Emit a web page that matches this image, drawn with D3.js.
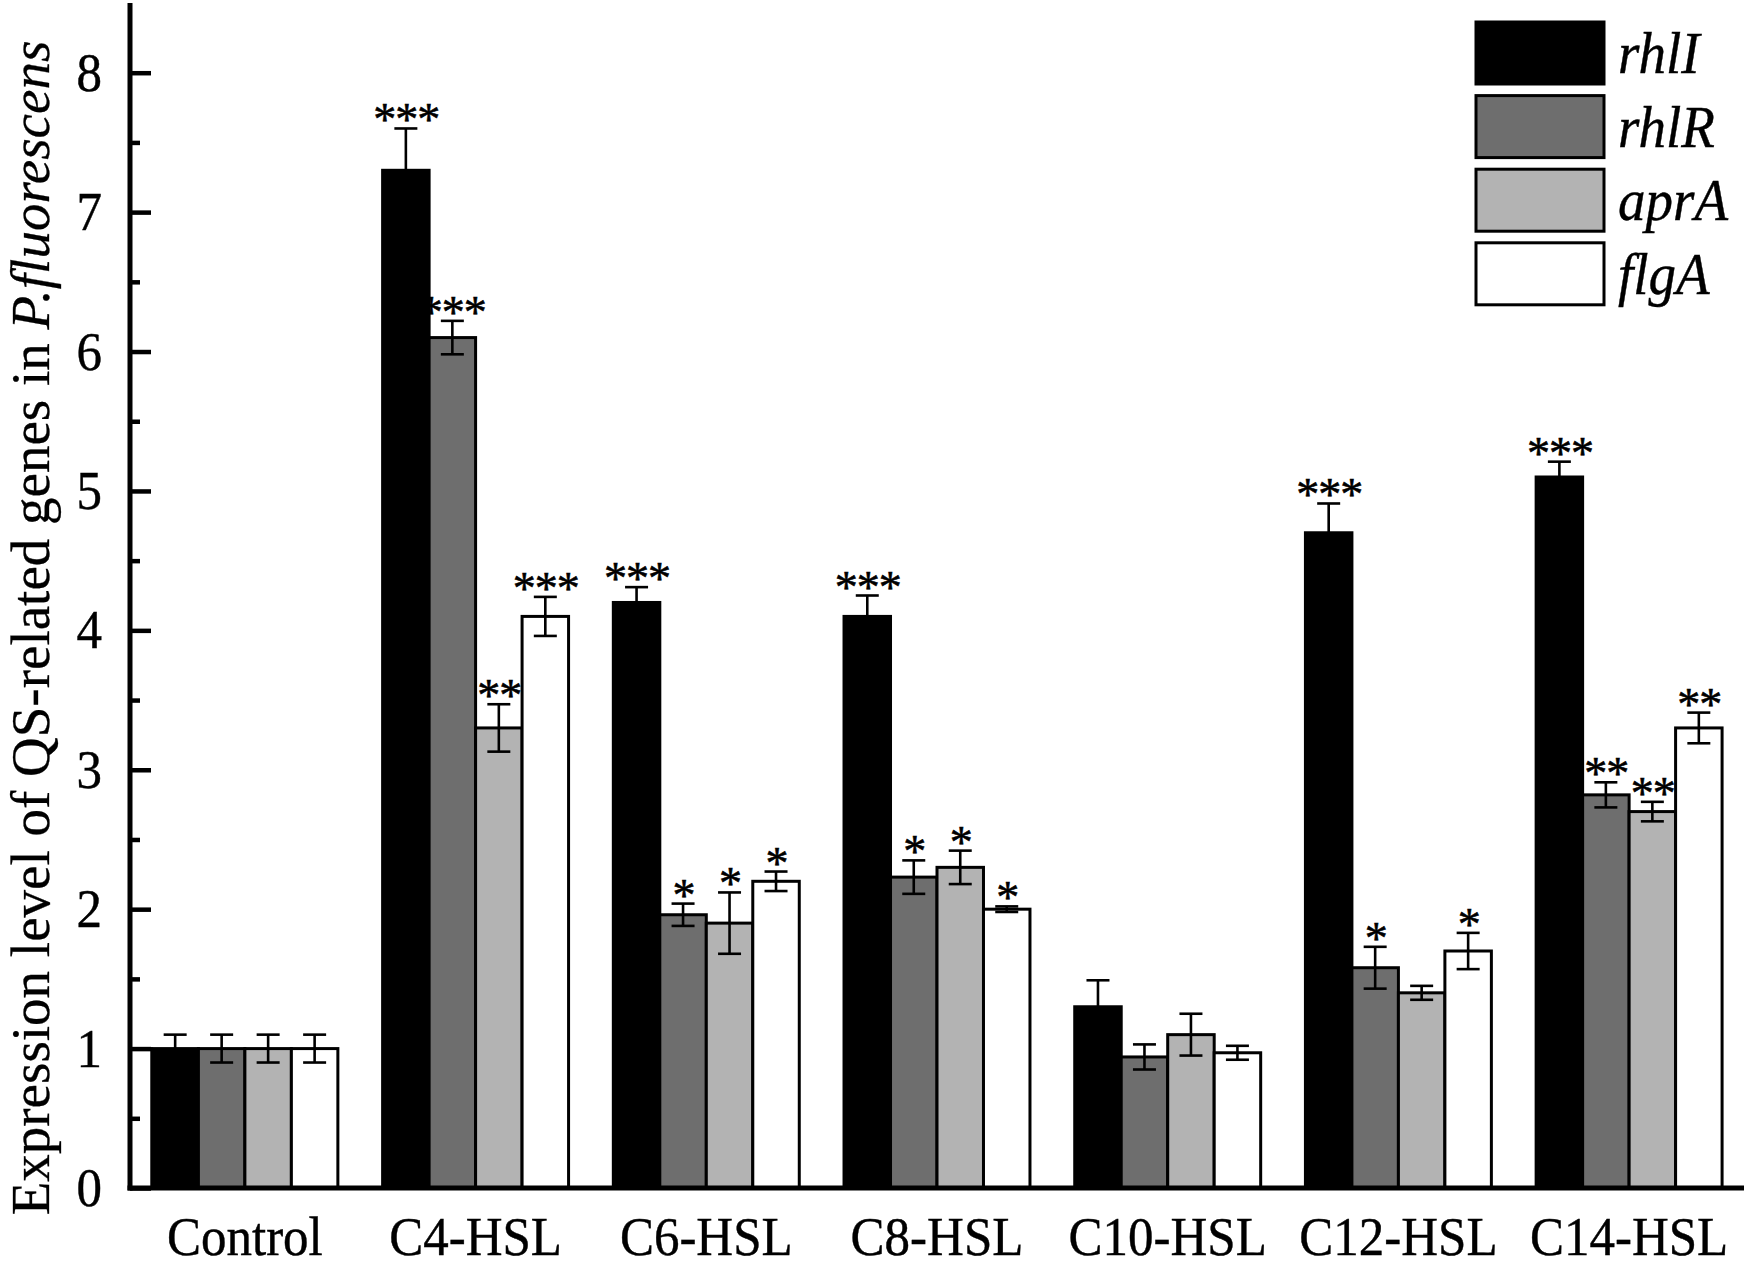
<!DOCTYPE html>
<html>
<head>
<meta charset="utf-8">
<script src="https://cdn.jsdelivr.net/npm/d3@7/dist/d3.min.js"></script>
<style>
  html, body { margin: 0; padding: 0; background: #ffffff; }
  svg { display: block; }
  text { font-family: "Liberation Serif", "Times New Roman", serif; fill: #000; }
</style>
</head>
<body>
<svg id="chart" width="1757" height="1278"></svg>
<script>
// ---------------- data ----------------
const categories = ["Control", "C4-HSL", "C6-HSL", "C8-HSL", "C10-HSL", "C12-HSL", "C14-HSL"];
const seriesNames = ["rhlI", "rhlR", "aprA", "flgA"];
const seriesColors = ["#000000", "#6e6e6e", "#b3b3b3", "#ffffff"];

const rhlI      = [1.00, 7.30, 4.20, 4.10, 1.30, 4.70, 5.10];
const rhlI_err  = [0.10, 0.30, 0.11, 0.15, 0.19, 0.21, 0.11];
const rhlR      = [1.00, 6.10, 1.96, 2.23, 0.94, 1.58, 2.82];
const rhlR_err  = [0.10, 0.12, 0.08, 0.12, 0.09, 0.15, 0.09];
const aprA      = [1.00, 3.30, 1.90, 2.30, 1.10, 1.40, 2.70];
const aprA_err  = [0.10, 0.17, 0.22, 0.12, 0.15, 0.05, 0.07];
const flgA      = [1.00, 4.10, 2.20, 2.00, 0.97, 1.70, 3.30];
const flgA_err  = [0.10, 0.14, 0.07, 0.02, 0.05, 0.13, 0.11];

const rhlI_sig = ["", "***", "***", "***", "", "***", "***"];
const rhlR_sig = ["", "***", "*", "*", "", "*", "**"];
const aprA_sig = ["", "**", "*", "*", "", "", "**"];
const flgA_sig = ["", "***", "*", "*", "", "*", "**"];

const yMajorTicks = [0, 1, 2, 3, 4, 5, 6, 7, 8];
const yMinorTicks = [0.5, 1.5, 2.5, 3.5, 4.5, 5.5, 6.5, 7.5];
const yDomainMax = 8.5;
const yLabelPlain = "Expression level of QS-related genes in ";
const yLabelItalic = "P.fluorescens";

const seriesValues = [rhlI, rhlR, aprA, flgA];
const seriesErrors = [rhlI_err, rhlR_err, aprA_err, flgA_err];
const seriesSig = [rhlI_sig, rhlR_sig, aprA_sig, flgA_sig];

// ---------------- layout ----------------
const svg = d3.select("#chart");
const plotLeft = 130, plotRight = 1744, plotBottom = 1188, plotTop = 3;
const textStretch = 1.08;

const x = d3.scaleBand().domain(categories).range([plotLeft, plotRight])
  .paddingInner(0.194).paddingOuter(0.095);
const xs = d3.scaleBand().domain(seriesNames).range([0, x.bandwidth()]).padding(0);
const y = d3.scaleLinear().domain([0, yDomainMax]).range([plotBottom, plotTop]);

// flatten records
const records = [];
categories.forEach((c, ci) => {
  seriesNames.forEach((s, si) => {
    records.push({cat: c, ser: s, si, v: seriesValues[si][ci], e: seriesErrors[si][ci], sig: seriesSig[si][ci]});
  });
});

// white frame between axis and Control group (as in reference)
svg.append("rect")
  .attr("x", x.range()[0])
  .attr("y", y(rhlI[0]))
  .attr("width", x(categories[0]) - x.range()[0])
  .attr("height", y(0) - y(rhlI[0]))
  .attr("fill", "#fff").attr("stroke", "#000").attr("stroke-width", 2.5);

// bars
svg.append("g").selectAll("rect").data(records).join("rect")
  .attr("x", d => x(d.cat) + xs(d.ser))
  .attr("y", d => y(d.v))
  .attr("width", xs.bandwidth())
  .attr("height", d => y(0) - y(d.v))
  .attr("fill", d => seriesColors[d.si])
  .attr("stroke", "#000")
  .attr("stroke-width", 3);

// error bars
const capW = 23;
const eg = svg.append("g").attr("stroke", "#000").attr("stroke-width", 2.6).attr("fill", "none");
records.forEach(d => {
  const cx = x(d.cat) + xs(d.ser) + xs.bandwidth() / 2;
  eg.append("line").attr("x1", cx).attr("x2", cx).attr("y1", y(d.v + d.e)).attr("y2", y(d.v - d.e));
  eg.append("line").attr("x1", cx - capW / 2).attr("x2", cx + capW / 2).attr("y1", y(d.v + d.e)).attr("y2", y(d.v + d.e));
  eg.append("line").attr("x1", cx - capW / 2).attr("x2", cx + capW / 2).attr("y1", y(d.v - d.e)).attr("y2", y(d.v - d.e));
});

// significance stars
svg.append("g").selectAll("text").data(records.filter(d => d.sig)).join("text")
  .attr("x", d => x(d.cat) + xs(d.ser) + xs.bandwidth() / 2 + 0.5)
  .attr("y", d => y(d.v + d.e) + 7)
  .attr("text-anchor", "middle")
  .attr("font-size", 46)
  .attr("letter-spacing", -1)
  .attr("stroke", "#000").attr("stroke-width", 0.6)
  .text(d => d.sig);

// y axis (ticks pointing inward)
const yAxis = svg.append("g").attr("transform", `translate(${plotLeft},0)`)
  .call(d3.axisLeft(y).tickValues(yMajorTicks).tickSize(-21).tickSizeOuter(0).tickPadding(28).tickFormat(d3.format("d")));
yAxis.select(".domain").remove();
yAxis.selectAll(".tick line").attr("stroke", "#000").attr("stroke-width", 4.5);
yAxis.selectAll(".tick text")
  .attr("font-size", 51)
  .attr("font-family", "Liberation Serif, Times New Roman, serif")
  .attr("fill", "#000")
  .attr("stroke", "#000").attr("stroke-width", 0.4)
  .attr("transform", `scale(1,${textStretch})`);

const yMinor = svg.append("g").attr("transform", `translate(${plotLeft},0)`)
  .call(d3.axisLeft(y).tickValues(yMinorTicks).tickSize(-10).tickSizeOuter(0).tickFormat(""));
yMinor.select(".domain").remove();
yMinor.selectAll(".tick line").attr("stroke", "#000").attr("stroke-width", 4.5);

// y axis line
svg.append("line")
  .attr("x1", plotLeft).attr("x2", plotLeft)
  .attr("y1", y(yDomainMax)).attr("y2", y(0) + 2.5)
  .attr("stroke", "#000").attr("stroke-width", 5);

// x axis line + labels
svg.append("line")
  .attr("x1", plotLeft - 2.5).attr("x2", plotRight)
  .attr("y1", y(0)).attr("y2", y(0))
  .attr("stroke", "#000").attr("stroke-width", 5);

svg.append("g").selectAll("g").data(categories).join("g")
  .attr("transform", d => `translate(${x(d) + x.bandwidth() / 2},1255) scale(1,${textStretch})`)
  .append("text")
  .attr("text-anchor", "middle")
  .attr("font-size", 51)
  .attr("stroke", "#000").attr("stroke-width", 0.4)
  .text(d => d);

// y label
const yl = svg.append("text")
  .attr("transform", "translate(49,628) rotate(-90)")
  .attr("text-anchor", "middle")
  .attr("font-size", 55)
  .attr("stroke", "#000").attr("stroke-width", 0.3);
yl.append("tspan").text(yLabelPlain);
yl.append("tspan").attr("font-style", "italic").text(yLabelItalic);

// legend
const legendX = 1476, legendY = 22, legendW = 128, legendH = 62, legendStep = 73.6;
const lg = svg.append("g").selectAll("g").data(seriesNames).join("g")
  .attr("transform", (d, i) => `translate(${legendX},${legendY + i * legendStep})`);
lg.append("rect")
  .attr("width", legendW).attr("height", legendH)
  .attr("fill", (d, i) => seriesColors[i])
  .attr("stroke", "#000").attr("stroke-width", 3);
lg.append("g")
  .attr("transform", `translate(${legendW + 14},${legendH / 2 + 20}) scale(1,${textStretch})`)
  .append("text")
  .attr("font-size", 55)
  .attr("font-style", "italic")
  .attr("stroke", "#000").attr("stroke-width", 0.4)
  .text(d => d);
</script>
</body>
</html>
